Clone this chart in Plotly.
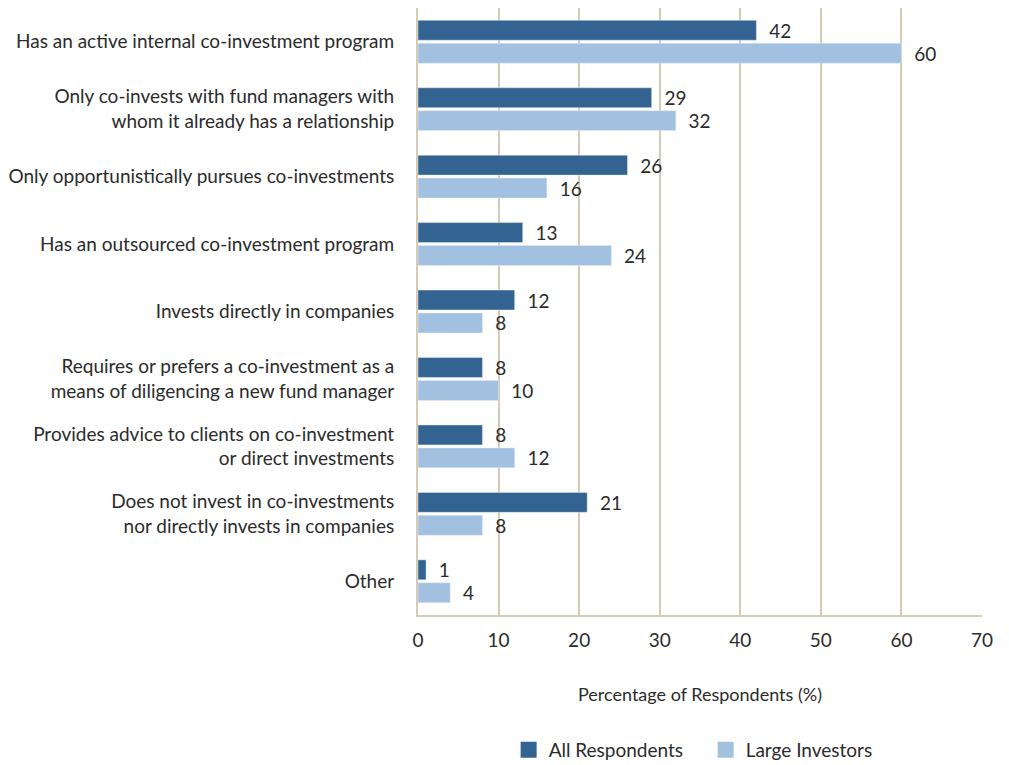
import plotly.graph_objects as go

categories = [
    "Has an active internal co-investment program",
    "Only co-invests with fund managers with<br>whom it already has a relationship",
    "Only opportunistically pursues co-investments",
    "Has an outsourced co-investment program",
    "Invests directly in companies",
    "Requires or prefers a co-investment as a<br>means of diligencing a new fund manager",
    "Provides advice to clients on co-investment<br>or direct investments",
    "Does not invest in co-investments<br>nor directly invests in companies",
    "Other",
]
all_respondents = [42, 29, 26, 13, 12, 8, 8, 21, 1]
large_investors = [60, 32, 16, 24, 8, 10, 12, 8, 4]
x_ticks = [0, 10, 20, 30, 40, 50, 60, 70]

dark = "#336391"
light = "#A2C0DF"
grid = "#D5CBB6"
text_col = "#2b2b2b"
font_family = "Lato, 'Noto Sans', sans-serif"

fig = go.Figure()
for name, vals, col in [("All Respondents", all_respondents, dark),
                        ("Large Investors", large_investors, light)]:
    fig.add_trace(go.Bar(
        y=categories, x=vals, orientation="h", name=name,
        marker_color=col, text=vals, texttemplate="  %{x}",
        textposition="outside", constraintext="none",
        textfont=dict(size=19, color=text_col),
        cliponaxis=False, showlegend=False,
    ))
# legend entries with larger square swatches
for name, col in [("All Respondents", dark), ("Large Investors", light)]:
    fig.add_trace(go.Scatter(
        x=[None], y=[None], mode="markers", name=name,
        marker=dict(symbol="square", size=20, color=col),
    ))

fig.update_layout(
    width=1001, height=757,
    margin=dict(l=407, r=27, t=0, b=150),
    barmode="group", bargap=0.32, bargroupgap=0.13,
    paper_bgcolor="white", plot_bgcolor="white",
    font=dict(family=font_family, size=18, color=text_col),
    legend=dict(
        orientation="h", x=0.51, xanchor="center",
        yref="container", y=0.02, yanchor="middle",
        font=dict(size=19, color=text_col), traceorder="normal",
        itemwidth=30, entrywidth=152,
    ),
)
fig.update_xaxes(
    range=[0, 70], tickvals=x_ticks, showgrid=True, gridcolor=grid, gridwidth=2,
    showline=True, linecolor=grid, linewidth=2, zeroline=False,
    ticks="", ticklabelstandoff=7, tickfont=dict(size=19, color=text_col),
    title=dict(text="Percentage of Respondents (%)", standoff=39,
               font=dict(size=18, color=text_col)),
)
fig.update_yaxes(
    autorange="reversed", showline=True, linecolor=grid, linewidth=2,
    ticks="", ticklabelstandoff=18, tickfont=dict(size=19, color=text_col),
)

fig.write_html("out.html")
